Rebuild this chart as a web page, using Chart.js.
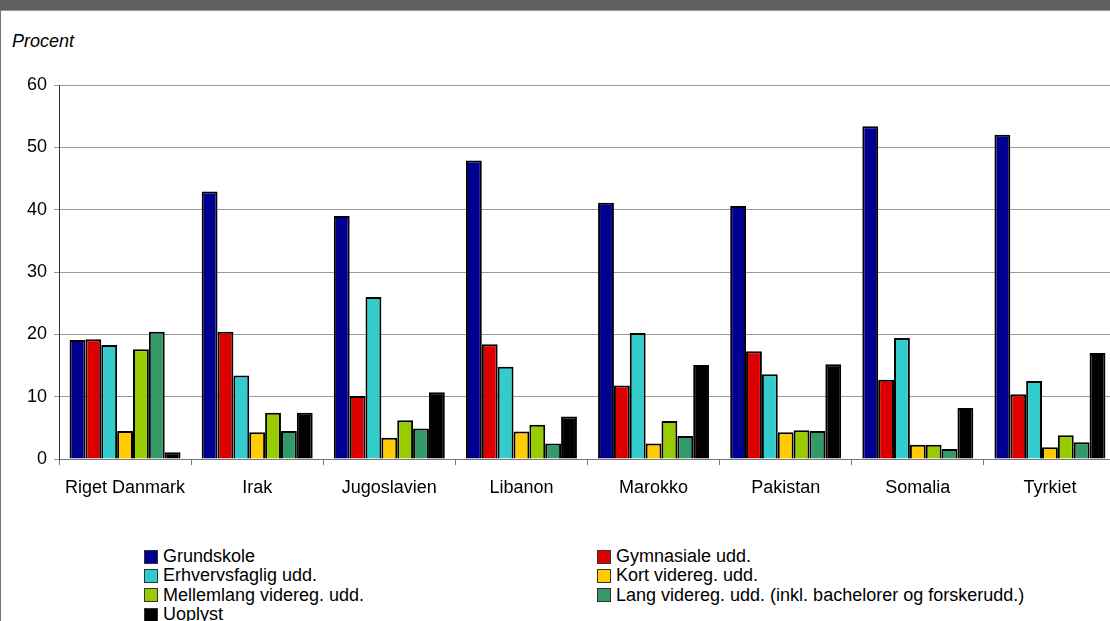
<!DOCTYPE html>
<html>
<head>
<meta charset="utf-8">
<script src="https://cdn.jsdelivr.net/npm/chart.js@4"></script>
<style>
  html, body { margin: 0; padding: 0; background: #fff; overflow: hidden; }
  body { width: 1110px; height: 621px; position: relative; font-family: "Liberation Sans", Arial, sans-serif; }
  #topbar { position: absolute; left: 0; top: 0; width: 1110px; height: 10px; background: #5f5f5f; border-bottom: 1px solid #999; }
  #leftline { position: absolute; left: 0; top: 10px; width: 1px; height: 611px; background: #777; }
  #unit { position: absolute; left: 12px; top: 31px; font-size: 18px; font-style: italic; color: #000; }
  #wrap { position: absolute; left: 0; top: 0; width: 1122px; height: 500px; }
  #legend { position: absolute; left: 144px; top: 547px; display: grid; grid-template-columns: 453px auto; row-gap: 0; font-size: 18px; color: #000; }
  #legend div { display: flex; align-items: center; height: 19.3px; white-space: nowrap; }
  #legend span.box { display: inline-block; width: 12px; height: 12px; border: 1px solid #333; margin-right: 5px; }
</style>
</head>
<body>
<div id="topbar"></div>
<div id="leftline"></div>
<div id="unit">Procent</div>
<div id="wrap"><canvas id="chart"></canvas></div>
<div id="legend"></div>
<script>
const countries = ['Riget Danmark', 'Irak', 'Jugoslavien', 'Libanon', 'Marokko', 'Pakistan', 'Somalia', 'Tyrkiet'];
const grundskole = [19.1, 42.9, 39.0, 47.9, 41.1, 40.6, 53.4, 52.0];
const gymnasiale = [19.2, 20.4, 10.1, 18.4, 11.8, 17.3, 12.7, 10.4];
const erhvervsfaglig = [18.3, 13.4, 26.0, 14.8, 20.2, 13.6, 19.4, 12.5];
const kortVidereg = [4.5, 4.3, 3.4, 4.4, 2.5, 4.3, 2.3, 1.9];
const mellemlang = [17.6, 7.4, 6.2, 5.5, 6.1, 4.6, 2.3, 3.8];
const langVidereg = [20.4, 4.5, 4.9, 2.5, 3.7, 4.5, 1.6, 2.7];
const uoplyst = [1.1, 7.4, 10.7, 6.8, 15.1, 15.2, 8.2, 17.0];
const yTicks = [0, 10, 20, 30, 40, 50, 60];

const series = [
  { label: 'Grundskole', data: grundskole, color: '#000090' },
  { label: 'Gymnasiale udd.', data: gymnasiale, color: '#dd0000' },
  { label: 'Erhvervsfaglig udd.', data: erhvervsfaglig, color: '#33cccc' },
  { label: 'Kort videreg. udd.', data: kortVidereg, color: '#ffcc00' },
  { label: 'Mellemlang videreg. udd.', data: mellemlang, color: '#99cc00' },
  { label: 'Lang videreg. udd. (inkl. bachelorer og forskerudd.)', data: langVidereg, color: '#339966' },
  { label: 'Uoplyst', data: uoplyst, color: '#000000' }
];

Chart.defaults.font.family = '"Liberation Sans", Arial, sans-serif';
Chart.defaults.font.size = 18;
Chart.defaults.color = '#000';

new Chart(document.getElementById('chart'), {
  type: 'bar',
  data: {
    labels: countries,
    datasets: series.map(s => ({
      label: s.label,
      data: s.data,
      backgroundColor: s.color,
      borderColor: '#000',
      borderWidth: 2,
      borderSkipped: 'bottom',
      categoryPercentage: 0.84,
      barPercentage: 1
    }))
  },
  options: {
    responsive: true,
    maintainAspectRatio: false,
    animation: false,
    layout: { padding: { top: 85, right: 6, left: 0, bottom: 0 } },
    plugins: { legend: { display: false }, tooltip: { enabled: false } },
    scales: {
      x: {
        grid: { offset: true, drawOnChartArea: false, tickLength: 6, color: '#777' },
        border: { color: '#777', width: 1 },
        ticks: { padding: 12, maxRotation: 0 },
        afterFit: s => { s.height = 41; }
      },
      y: {
        min: 0,
        max: 60,
        afterBuildTicks: s => { s.ticks = yTicks.map(v => ({ value: v })); },
        grid: { color: '#999', tickLength: 5 },
        border: { color: '#333', width: 1 },
        ticks: { padding: 7 },
        afterFit: s => { s.width = 59; }
      }
    }
  }
});

const legend = document.getElementById('legend');
series.forEach(s => {
  const item = document.createElement('div');
  item.innerHTML = '<span class="box" style="background:' + s.color + '"></span>' + s.label;
  legend.appendChild(item);
});
</script>
</body>
</html>
